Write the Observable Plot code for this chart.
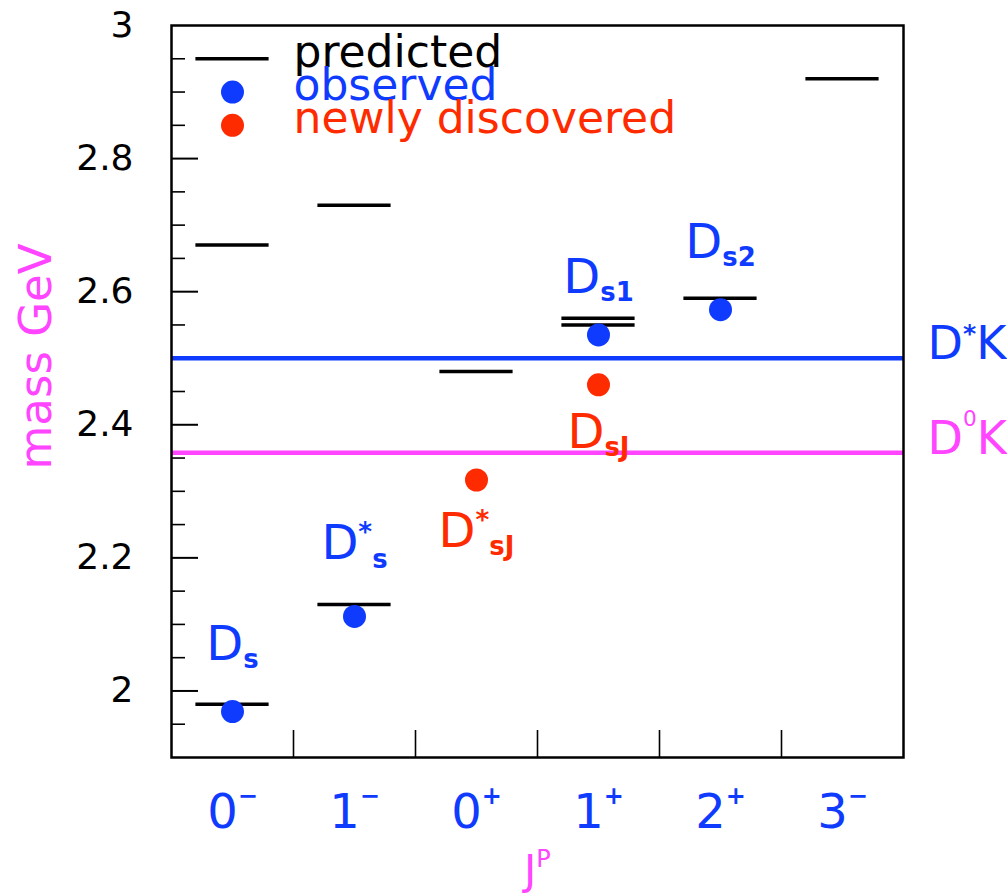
<!DOCTYPE html>
<html>
<head>
<meta charset="utf-8">
<script src="https://cdn.jsdelivr.net/npm/d3@7"></script>
<script src="https://cdn.jsdelivr.net/npm/@observablehq/plot@0.6"></script>
<style>
  body { margin: 0; background: #fff; }
  #chart svg { display: block; }
</style>
</head>
<body>
<div id="chart"></div>
<script>
// Columns: spin J with the parity P written as a raised sign.
const jp = ["0^{−}", "1^{−}", "0^{+}", "1^{+}", "2^{+}", "3^{−}"];

// Predicted c–s̄ levels (GeV).
const predictedJP   = ["0^{−}", "0^{−}", "1^{−}", "1^{−}", "0^{+}", "1^{+}", "1^{+}", "2^{+}", "3^{−}"];
const predictedMass = [1.98, 2.67, 2.13, 2.73, 2.48, 2.55, 2.56, 2.59, 2.92];

// Previously observed states (GeV).
const observedJP   = ["0^{−}", "1^{−}", "1^{+}", "2^{+}"];
const observedMass = [1.969, 2.112, 2.535, 2.573];
const observedName = ["D_{s}", "D^{*}_{s}", "D_{s1}", "D_{s2}"];

// Newly discovered states (GeV).
const newJP   = ["0^{+}", "1^{+}"];
const newMass = [2.317, 2.460];
const newName = ["D^{*}_{sJ}", "D_{sJ}"];

// Decay thresholds (GeV).
const thresholdName = ["D^{*}K", "D^{0}K"];
const thresholdMass = [2.50, 2.358];

const yTickLabels  = [2, 2.2, 2.4, 2.6, 2.8, 3];
const legendLabels = ["predicted", "observed", "newly discovered"];

const BLUE = "#0f3bff", RED = "#ff2b00", MAGENTA = "#ff45ff";

const W = 1007, H = 893;
const M = {top: 25, right: 104, bottom: 136, left: 171};
const frameW = W - M.left - M.right, frameH = H - M.top - M.bottom;

const col = j => jp.indexOf(j);
const predicted = predictedJP.map((j, i) => ({col: col(j), mass: predictedMass[i]}));
const observed  = observedJP.map((j, i) => ({col: col(j), mass: observedMass[i], name: observedName[i]}));
const found     = newJP.map((j, i) => ({col: col(j), mass: newMass[i], name: newName[i]}));

// Inward ticks: long every 0.2, short every 0.05.
const stepTicks = d3.range(39, 60).map(k => k / 20);
const majorTicks = stepTicks.filter((v, k) => (k + 39) % 4 === 0);
const minorTicks = stepTicks.filter((v, k) => (k + 39) % 4 !== 0);
const columnEdges = d3.range(jp.length - 1).map(i => i + 0.5);

// Vertical offsets of the state names from their dots.
const labelDy = {
  "D_{s}": -52, "D^{*}_{s}": -57, "D_{s1}": -42, "D_{s2}": -52,
  "D^{*}_{sJ}": 67, "D_{sJ}": 63
};

// Legend rows sit on the top short ticks of the first column.
const legendY = i => 3 - 0.05 * (i + 1);
const legendColor = ["black", BLUE, RED];

const stateLabel = (d, fill) => Plot.text([d], {
  x: "col", y: "mass", text: "name", dy: labelDy[d.name],
  lineAnchor: "bottom", fontSize: 48, fill
});

const chart = Plot.plot({
  width: W, height: H,
  marginTop: M.top, marginRight: M.right, marginBottom: M.bottom, marginLeft: M.left,
  style: {fontFamily: "DejaVu Sans", background: "white", overflow: "visible"},
  x: {domain: [-0.5, jp.length - 0.5], axis: null},
  y: {domain: [1.9, 3.0], axis: null},
  color: {type: "identity"},
  marks: [
    // axis ticks
    Plot.tickY(majorTicks, {y: d => d, insetRight: frameW - 27, stroke: "black", strokeWidth: 2}),
    Plot.tickY(minorTicks, {y: d => d, insetRight: frameW - 14, stroke: "black", strokeWidth: 1.6}),
    Plot.tickX(columnEdges, {x: d => d, insetTop: frameH - 27, stroke: "black", strokeWidth: 1.6}),
    Plot.axisY(yTickLabels, {tickSize: 0, tickPadding: 38, tickFormat: d3.format("~g"), fontSize: 36, fill: "black", label: null}),

    // thresholds
    Plot.ruleY([thresholdMass[0]], {stroke: BLUE, strokeWidth: 4.5}),
    Plot.ruleY([thresholdMass[1]], {stroke: MAGENTA, strokeWidth: 4.5}),
    Plot.text([thresholdName[0]], {y: () => thresholdMass[0], frameAnchor: "right", dx: 24, dy: 1,
      textAnchor: "start", lineAnchor: "bottom", fontSize: 46, fill: BLUE}),
    Plot.text([thresholdName[1]], {y: () => thresholdMass[1], frameAnchor: "right", dx: 24, dy: 1,
      textAnchor: "start", lineAnchor: "bottom", fontSize: 46, fill: MAGENTA}),

    // predicted levels
    Plot.ruleY(predicted, {y: "mass", x1: d => d.col - 0.3, x2: d => d.col + 0.3, stroke: "black", strokeWidth: 3.5}),

    // measured states
    Plot.dot(observed, {x: "col", y: "mass", r: 11.5, fill: BLUE}),
    Plot.dot(found, {x: "col", y: "mass", r: 11.5, fill: RED}),
    ...observed.map(d => stateLabel(d, BLUE)),
    ...found.map(d => stateLabel(d, RED)),

    // legend
    Plot.ruleY([legendY(0)], {x1: () => -0.3, x2: () => 0.3, stroke: "black", strokeWidth: 3.5}),
    Plot.dot([1, 2], {x: () => 0, y: i => legendY(i), r: 11.5, fill: i => legendColor[i]}),
    Plot.text(legendLabels, {x: () => 0, y: (d, i) => legendY(i), dx: 61, dy: 8,
      textAnchor: "start", lineAnchor: "bottom", fontSize: 44, fill: (d, i) => legendColor[i]}),

    // column labels and axis titles
    Plot.text(jp, {x: (d, i) => i, frameAnchor: "bottom", dy: 70, lineAnchor: "bottom", fontSize: 48, fill: BLUE}),
    Plot.text(["J^{P}"], {frameAnchor: "bottom", dy: 126, lineAnchor: "bottom", fontSize: 40, fill: MAGENTA}),
    Plot.text(["mass GeV"], {frameAnchor: "left", dx: -135, dy: -35, rotate: -90, textAnchor: "middle",
      fontSize: 45, fill: MAGENTA}),

    Plot.frame({stroke: "black", strokeWidth: 2.5})
  ]
});

document.getElementById("chart").appendChild(chart);

// Turn ^{..} and _{..} in text into raised / lowered tspans.
function richText(svg) {
  const NS = "http://www.w3.org/2000/svg";
  svg.querySelectorAll("text").forEach(el => {
    const s = el.textContent;
    if (!/[\^_]\{/.test(s)) return;
    const base = parseFloat(getComputedStyle(el).fontSize);
    const parts = [...s.matchAll(/([\^_])\{([^}]*)\}|([^\^_]+)/g)];
    el.textContent = "";
    let shift = 0;
    for (const m of parts) {
      const t = document.createElementNS(NS, "tspan");
      let target = 0, size = base, weight = null;
      const str = m[2] ?? m[3];
      if (m[1] === "^") {
        if (str === "−" || str === "+") { size = base * 0.5; target = -0.5 * base; weight = "bold"; }
        else if (str === "*") { size = base * 0.55; target = -0.38 * base; weight = "bold"; }
        else if (str === "P") { size = base * 0.6; target = -0.42 * base; }
        else { size = base * 0.47; target = -0.6 * base; }
      } else if (m[1] === "_") {
        size = base * 0.54; target = 0.17 * base; weight = "bold";
      }
      t.setAttribute("dy", (target - shift).toFixed(2));
      shift = target;
      t.setAttribute("font-size", size.toFixed(2));
      if (weight) t.setAttribute("font-weight", weight);
      t.textContent = str;
      el.appendChild(t);
    }
  });
}
richText(chart);
</script>
</body>
</html>
